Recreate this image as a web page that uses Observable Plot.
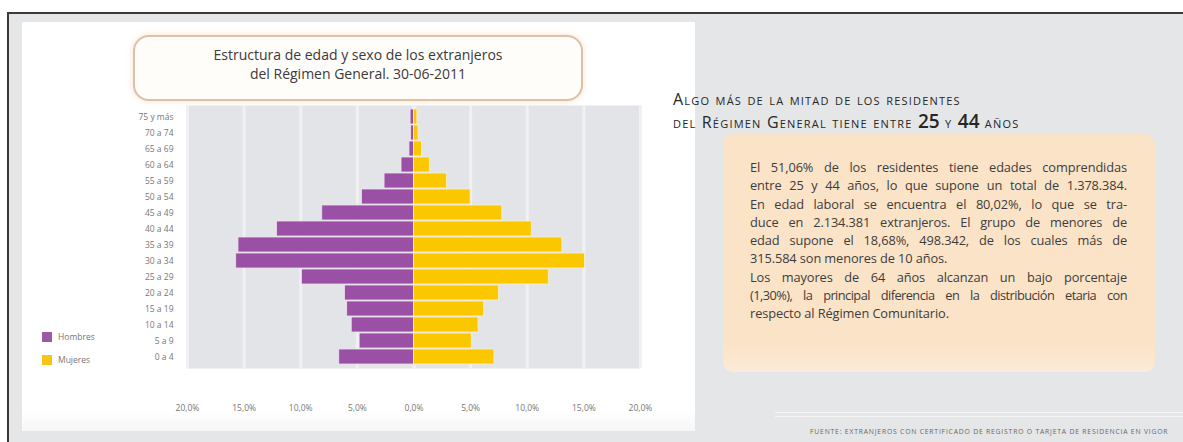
<!DOCTYPE html>
<html>
<head>
<meta charset="utf-8">
<script src="https://cdn.jsdelivr.net/npm/d3@7"></script>
<script src="https://cdn.jsdelivr.net/npm/@observablehq/plot@0.6"></script>
<style>
  html, body { margin: 0; padding: 0; }
  body { width: 1183px; height: 442px; position: relative; overflow: hidden; background: #fff; font-family: "Open Sans", "Noto Sans", sans-serif; }
  .abs { position: absolute; }
  #topline { left: 7px; top: 12px; width: 1176px; height: 2px; background: #3a3a3a; }
  #leftline { left: 7px; top: 12px; width: 2px; height: 430px; background: #3a3a3a; }
  #grayarea { left: 9px; top: 14px; width: 1174px; height: 428px; background: #e5e6e8; }
  #whitepanel { left: 22px; top: 22px; width: 673px; height: 409px; background: linear-gradient(#fff, #fff 95%, #f6f6f6); }
  #titlebox { left: 133px; top: 35px; width: 446px; height: 54px; border: 2px solid #dcc0a8; border-radius: 16px; background: #fffdfa; box-shadow: 0 0 6px rgba(240,200,160,0.55); text-align: center; color: #3a3a3a; font-size: 14px; line-height: 19px; padding-top: 8px; box-sizing: content-box; }
  #chart { left: 0; top: 0; }
  .leg { font-size: 8.5px; color: #777; }
  .sw { width: 10px; height: 10px; }
  #rtitle { left: 673px; top: 88px; color: #262626; font-variant: small-caps; font-size: 16px; line-height: 22px; white-space: nowrap; letter-spacing: 1.2px; }
  #rtitle b { font-size: 19px; font-variant: normal; font-weight: 600; letter-spacing: 0; }
  #obox { left: 723px; top: 134px; width: 432px; height: 238px; border-radius: 10px; background: linear-gradient(#fbe3c7, #fbe3c7 88%, #fcebd8); }
  #para { left: 750px; top: 158px; width: 377px; color: #3d3d3d; font-size: 12.8px; line-height: 18.3px; letter-spacing: -0.1px; }
  #para div { text-align: justify; text-align-last: justify; white-space: nowrap; }
  #para div.last { text-align-last: left; }
  #para div.tight { letter-spacing: -0.55px; }
  #srclines { left: 775px; top: 412px; width: 408px; height: 3px; border-top: 1px solid #f5f5f6; border-bottom: 1px solid #f5f5f6; }
  #source { left: 810px; top: 427px; font-size: 6.8px; color: #666; white-space: nowrap; letter-spacing: 0.8px; }
</style>
</head>
<body>
<div id="grayarea" class="abs"></div>
<div id="topline" class="abs"></div>
<div id="leftline" class="abs"></div>
<div id="whitepanel" class="abs"></div>
<div id="titlebox" class="abs">Estructura de edad y sexo de los extranjeros<br>del Régimen General. 30-06-2011</div>
<div id="chart" class="abs"></div>

<div class="abs sw" style="left:42px;top:332px;background:#9a5aa6;"></div>
<div class="abs leg" style="left:58px;top:331px;">Hombres</div>
<div class="abs sw" style="left:42px;top:355px;background:#f7c614;"></div>
<div class="abs leg" style="left:58px;top:354px;">Mujeres</div>

<div id="rtitle" class="abs">Algo más de la mitad de los residentes<br>del Régimen General tiene entre <b>25</b> y <b>44</b> años</div>
<div id="obox" class="abs"></div>
<div id="para" class="abs">
  <div>El 51,06% de los residentes tiene edades comprendidas</div>
  <div>entre 25 y 44 años, lo que supone un total de 1.378.384.</div>
  <div>En edad laboral se encuentra el 80,02%, lo que se tra-</div>
  <div>duce en 2.134.381 extranjeros. El grupo de menores de</div>
  <div>edad supone el 18,68%, 498.342, de los cuales más de</div>
  <div class="last">315.584 son menores de 10 años.</div>
  <div>Los mayores de 64 años alcanzan un bajo porcentaje</div>
  <div class="tight">(1,30%), la principal diferencia en la distribución etaria con</div>
  <div class="last">respecto al Régimen Comunitario.</div>
</div>
<div id="srclines" class="abs"></div>
<div id="source" class="abs">FUENTE: EXTRANJEROS CON CERTIFICADO DE REGISTRO O TARJETA DE RESIDENCIA EN VIGOR</div>

<script>
const ages = ["0 a 4","5 a 9","10 a 14","15 a 19","20 a 24","25 a 29","30 a 34","35 a 39","40 a 44","45 a 49","50 a 54","55 a 59","60 a 64","65 a 69","70 a 74","75 y más"];
const hombres = [6.6, 4.8, 5.5, 5.9, 6.1, 9.9, 15.7, 15.5, 12.1, 8.1, 4.6, 2.6, 1.1, 0.4, 0.25, 0.3];
const mujeres = [7.1, 5.1, 5.7, 6.2, 7.5, 11.9, 15.1, 13.1, 10.4, 7.8, 5.0, 2.9, 1.4, 0.7, 0.4, 0.3];
const xTicks = [-20, -15, -10, -5, 0, 5, 10, 15, 20];

const male = ages.map((a, i) => ({age: a, v: hombres[i]}));
const female = ages.map((a, i) => ({age: a, v: mujeres[i]}));

const chart = Plot.plot({
  width: 700,
  height: 442,
  marginLeft: 187,
  marginRight: 60,
  marginTop: 105,
  marginBottom: 74,
  style: {background: "transparent", fontFamily: "'Open Sans', 'Noto Sans', sans-serif", color: "#777", fontSize: "8.5px"},
  x: {domain: [-20, 20], ticks: xTicks, tickSize: 0, tickPadding: 36, label: null,
      tickFormat: d => Math.abs(d).toFixed(1).replace(".", ",") + "%"},
  y: {domain: ages.slice().reverse(), padding: 0.04, tickSize: 0, tickPadding: 14, label: null},
  marks: [
    Plot.frame({fill: "#e3e4e7", stroke: null}),
    Plot.ruleX(xTicks, {stroke: "#f1f1f3", strokeWidth: 3}),
    Plot.barX(male, {x1: d => -d.v, x2: 0, y: "age", fill: "#9a50a4", stroke: "#efe2ef", strokeWidth: 0.8}),
    Plot.barX(female, {x1: 0, x2: "v", y: "age", fill: "#fbc800", stroke: "#fbefc8", strokeWidth: 0.8})
  ]
});
document.getElementById("chart").appendChild(chart);
</script>
</body>
</html>
